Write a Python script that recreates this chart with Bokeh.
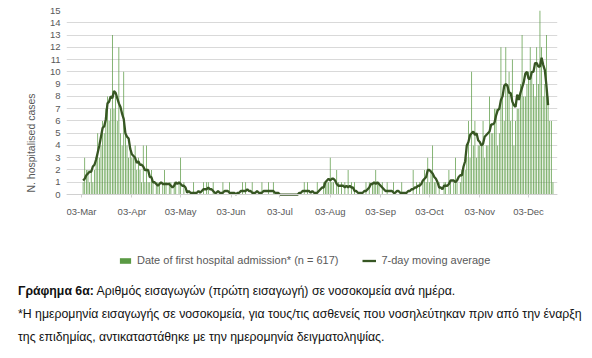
import pandas as pd
from bokeh.plotting import figure
from bokeh.models import (ColumnDataSource, FixedTicker, Legend, LegendItem, Div, Range1d)
from bokeh.layouts import column
from bokeh.embed import file_html
from bokeh.resources import INLINE

# ---- data (daily first hospital admissions) ----
start_date = "2020-03-01"
mar = [0, 0, 0, 1, 3, 2, 2, 1, 2, 1, 2, 3, 5, 3, 4, 6, 5, 7, 8, 6, 7, 13, 7, 8, 6, 12, 5, 4, 10, 5, 4]
apr = [3, 4, 3, 3, 4, 2, 3, 2, 1, 4, 1, 4, 1, 1, 2, 1, 0, 1, 1, 1, 0, 1, 2, 1, 0, 1, 1, 0, 1, 1]
may = [0, 1, 3, 0, 1, 0, 0, 0, 0, 0, 1, 0, 0, 0, 0, 0, 1, 0, 1, 1, 0, 0, 1, 0, 0, 0, 0, 0, 1, 0, 0]
jun = [0, 1, 0, 0, 0, 0, 0, 0, 0, 1, 0, 1, 0, 0, 0, 1, 0, 0, 0, 0, 0, 1, 0, 0, 0, 1, 0, 0, 1, 0]
jul = [0, 0, 0, 0, 0, 0, 0, 0, 0, 0, 0, 0, 0, 0, 0, 0, 0, 1, 0, 1, 0, 0, 0, 0, 0, 1, 0, 0, 0, 1, 1]
aug = [1, 1, 3, 1, 1, 0, 2, 1, 0, 1, 0, 1, 0, 2, 0, 1, 0, 1, 0, 0, 0, 0, 0, 0, 1, 0, 1, 0, 1, 1, 2]
sep = [1, 1, 0, 1, 0, 0, 1, 0, 0, 0, 1, 0, 0, 0, 0, 1, 0, 0, 0, 0, 0, 0, 2, 0, 1, 0, 1, 0, 1, 2]
oct_ = [1, 3, 1, 2, 4, 1, 1, 0, 1, 0, 0, 1, 1, 0, 2, 1, 0, 1, 3, 1, 0, 1, 2, 2, 2, 3, 6, 3, 10, 4, 6]
nov = [3, 4, 4, 4, 6, 3, 4, 4, 8, 5, 5, 7, 7, 4, 5, 12, 8, 6, 12, 9, 10, 6, 11, 4, 6, 7, 7, 9, 13, 8]
dec = [8, 9, 10, 12, 10, 9, 8, 12, 9, 15, 12, 8, 9, 13, 8, 6, 6, 1]

tick_dates = ["2020-03-03", "2020-04-03", "2020-05-03", "2020-06-03", "2020-07-03",
              "2020-08-03", "2020-09-03", "2020-10-03", "2020-11-03", "2020-12-03"]
tick_labels = ["03-Mar", "03-Apr", "03-May", "03-Jun", "03-Jul",
               "03-Aug", "03-Sep", "03-Oct", "03-Nov", "03-Dec"]
y_ticks = list(range(0, 16))

bar_label = "Date of first hospital admission* (n = 617)"
line_label = "7-day moving average"
y_label = "N. hospitalised cases"
caption_title = "Γράφημα 6α:"
caption_1 = "Αριθμός εισαγωγών (πρώτη εισαγωγή) σε νοσοκομεία ανά ημέρα."
caption_2 = "*Η ημερομηνία εισαγωγής σε νοσοκομεία, για τους/τις ασθενείς που νοσηλεύτηκαν πριν από την έναρξη"
caption_3 = "της επιδημίας, αντικαταστάθηκε με την ημερομηνία δειγματοληψίας."

# ---- build ----
cases = mar + apr + may + jun + jul + aug + sep + oct_ + nov + dec
dates = pd.date_range(start_date, periods=len(cases), freq="D")
df = pd.DataFrame({"date": dates, "cases": cases})
df["ma"] = df["cases"].rolling(7, center=True).mean()
ma_df = df.dropna(subset=["ma"])

src = ColumnDataSource(df)
ma_src = ColumnDataSource(ma_df)

BAR = "#5a9a44"
LINE = "#375623"
GREY = "#595959"
FONT = "Liberation Sans"

# frame: x 66..557, y 10..275 ; value 0 sits at y=194, the area under it holds tick labels + legend
p = figure(width=566, height=280, x_axis_type="datetime",
           x_range=Range1d(pd.Timestamp("2020-02-22 19:00"), pd.Timestamp("2020-12-20 19:00")),
           y_range=Range1d(-6.6, 15),
           output_backend="svg", toolbar_location=None,
           min_border_left=66, min_border_right=9, min_border_top=10, min_border_bottom=5)
p.outline_line_color = None
p.background_fill_color = "white"
p.border_fill_color = "white"

day_ms = 24 * 3600 * 1000
bars = p.vbar(x="date", top="cases", width=0.45 * day_ms, source=src,
              fill_color=BAR, line_color=None)
ln = p.line(x="date", y="ma", source=ma_src, line_color=LINE, line_width=2.3)

tick_ms = [pd.Timestamp(d).value / 1e6 for d in tick_dates]
p.xaxis.fixed_location = 0
p.xaxis.ticker = FixedTicker(ticks=tick_ms)
p.xaxis.major_label_overrides = {t: lab for t, lab in zip(tick_ms, tick_labels)}
p.xaxis.axis_line_color = "#d0d0d0"
p.xaxis.major_tick_line_color = "#d0d0d0"
p.xaxis.major_tick_out = 3
p.xaxis.major_tick_in = 0
p.xaxis.minor_tick_line_color = None
p.xaxis.major_label_standoff = 8
p.xaxis.major_label_text_font = FONT
p.xaxis.major_label_text_font_size = "9.5px"
p.xaxis.major_label_text_color = GREY

p.yaxis.ticker = FixedTicker(ticks=y_ticks)
p.yaxis.axis_line_color = None
p.yaxis.major_tick_line_color = None
p.yaxis.major_tick_out = 0
p.yaxis.major_tick_in = 0
p.yaxis.minor_tick_line_color = None
p.yaxis.major_label_standoff = 6
p.yaxis.major_label_text_font = FONT
p.yaxis.major_label_text_font_size = "9.5px"
p.yaxis.major_label_text_color = GREY
p.yaxis.axis_label = y_label
p.yaxis.axis_label_text_font = FONT
p.yaxis.axis_label_text_font_size = "10.5px"
p.yaxis.axis_label_text_font_style = "normal"
p.yaxis.axis_label_text_color = GREY
p.yaxis.axis_label_standoff = 10

p.xgrid.grid_line_color = None
p.ygrid.grid_line_color = "#d9d9d9"
p.ygrid.grid_line_width = 1

legend = Legend(items=[LegendItem(label=bar_label, renderers=[bars]),
                       LegendItem(label=line_label, renderers=[ln])],
                location=(52, 9), orientation="horizontal",
                glyph_width=14, glyph_height=7, label_height=12,
                label_standoff=5, spacing=24, padding=0, margin=0,
                label_text_font=FONT, label_text_font_size="11px",
                label_text_color=GREY, border_line_color=None,
                background_fill_alpha=0)
p.add_layout(legend, "center")

caption_html = (
    '<div style="font-family:\'Liberation Sans\',Arial,sans-serif;font-size:12.3px;'
    'line-height:23px;color:#111;padding-left:18px;white-space:nowrap;">'
    f'<b>{caption_title}</b> {caption_1}<br>{caption_2}<br>{caption_3}</div>'
)
cap = Div(text=caption_html, width=580, height=72, margin=(0, 0, 0, 0))

layout = column(p, cap, spacing=0)

open("out.html", "w").write(file_html(layout, INLINE))
